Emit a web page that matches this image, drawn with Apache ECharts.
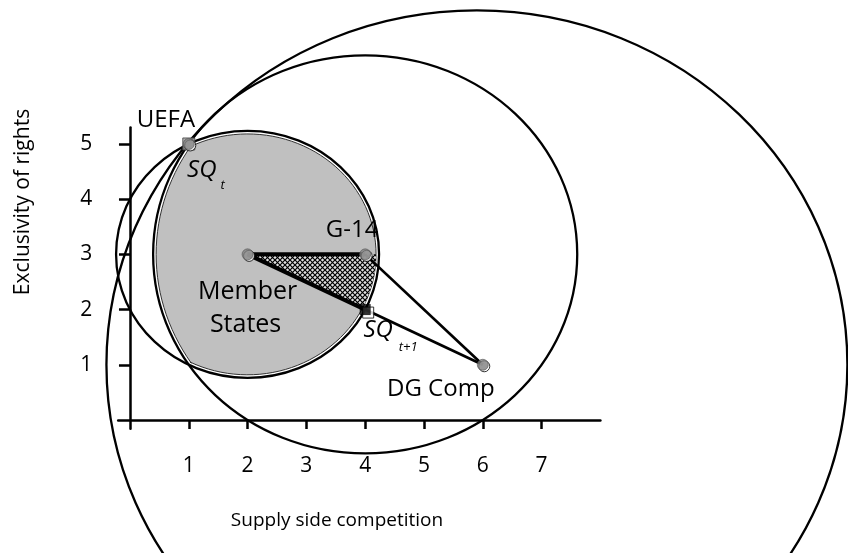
<!DOCTYPE html>
<html>
<head>
<meta charset="utf-8">
<script src="https://cdn.jsdelivr.net/npm/echarts@6/dist/echarts.min.js"></script>
<style>
  html, body { margin: 0; padding: 0; background: #fff; }
  #chart { width: 848px; height: 553px; }
</style>
</head>
<body>
<div id="chart"></div>
<script>
const FONT = '"Open Sans", "Noto Sans", sans-serif'

// tick labels
const xTicks = [1, 2, 3, 4, 5, 6, 7]
const yTicks = [1, 2, 3, 4, 5]

// ideal points of the actors
const actorNames = ['UEFA', 'Member States', 'G-14', 'DG Comp']
const actorX = [1, 2, 4, 6]
const actorY = [5, 3, 3, 1]

// status quo before / after
const sqNames = ['SQt', 'SQt+1']
const sqX = [1, 4]
const sqY = [5, 2]

// indifference circles through SQt (centre + radii, data units)
const circleNames = ['Member States', 'G-14', 'DG Comp']
const circleCx = [2, 4, 5.9]
const circleCy = [3, 3, 1]
const circleRx = [2.236, 3.606, 6.3]
const circleRy = [2.236, 3.606, 6.42]

// segments between actors
const thickSegments = [[[2, 3], [4, 3]], [[2, 3], [4, 2]]]
const thinSegments = [[[4, 3], [6, 1]], [[4, 2], [6, 1]]]

const chart = echarts.init(document.getElementById('chart'))

// crosshatch pattern
const pat = document.createElement('canvas')
pat.width = 5
pat.height = 5
const pctx = pat.getContext('2d')
pctx.fillStyle = '#e0e0e0'
pctx.fillRect(0, 0, 5, 5)
pctx.strokeStyle = '#000'
pctx.lineWidth = 1.2
pctx.beginPath()
pctx.moveTo(0, 0); pctx.lineTo(5, 5)
pctx.moveTo(5, 0); pctx.lineTo(0, 5)
pctx.stroke()

// helpers for the ellipse geometry in pixel space
function ellipseOf (api, i) {
  const c = api.coord([circleCx[i], circleCy[i]])
  const s = api.size([circleRx[i], circleRy[i]])
  return { cx: c[0], cy: c[1], rx: s[0], ry: s[1] }
}
function angleOf (i, x, y) {
  return Math.atan2((y - circleCy[i]) / circleRy[i], (x - circleCx[i]) / circleRx[i])
}
function arcPoints (e, a0, a1, inset, n) {
  const pts = []
  for (let k = 0; k <= n; k++) {
    const a = a0 + (a1 - a0) * k / n
    pts.push([e.cx + (e.rx - inset) * Math.cos(a), e.cy - (e.ry - inset) * Math.sin(a)])
  }
  return pts
}

// win set: inside Member States circle and G-14 circle
const winSetRender = function (params, api) {
  const ms = ellipseOf(api, 0)
  const g = ellipseOf(api, 1)
  // second intersection = SQt mirrored over the line of centres (y = 3)
  const lowY = 2 * circleCy[0] - sqY[0]
  const msA0 = angleOf(0, sqX[0], sqY[0])
  const msA1 = angleOf(0, sqX[0], lowY)
  let gA0 = angleOf(1, sqX[0], lowY)
  const gA1 = angleOf(1, sqX[0], sqY[0])
  if (gA0 < 0) gA0 += Math.PI * 2
  const pts = arcPoints(ms, msA0, msA1, 3, 80).concat(arcPoints(g, gA0, gA1, 3, 30))
  return {
    type: 'polygon',
    shape: { points: pts },
    style: { fill: '#c0c0c0', stroke: '#333', lineWidth: 1 }
  }
}

// hatched part: between MS->G-14 ray, MS->SQt+1 ray and the MS circle
const hatchRender = function (params, api) {
  const ms = ellipseOf(api, 0)
  const c = api.coord([actorX[1], actorY[1]])
  const a0 = angleOf(0, actorX[2], actorY[2])
  const a1 = angleOf(0, sqX[1], sqY[1])
  const pts = [c].concat(arcPoints(ms, a0, a1, 3, 20))
  return {
    type: 'polygon',
    shape: { points: pts },
    style: { fill: { image: pat, repeat: 'repeat' }, stroke: null }
  }
}

const circleRender = function (params, api) {
  const e = ellipseOf(api, params.dataIndex)
  return {
    type: 'ellipse',
    shape: e,
    style: { fill: null, stroke: '#000', lineWidth: 2.3 }
  }
}

const segmentSeries = function (seg, width) {
  return {
    type: 'line',
    data: seg,
    showSymbol: false,
    silent: true,
    z: 4,
    lineStyle: { color: '#000', width: width }
  }
}

const option = {
  animation: false,
  backgroundColor: '#fff',
  grid: { left: 118.2, top: 127.4, width: 482.2, height: 301.4 },
  xAxis: {
    type: 'value',
    min: -0.2,
    max: 8,
    splitLine: { show: false },
    axisLine: { onZero: true, lineStyle: { color: '#000', width: 2.5 } },
    axisTick: { customValues: xTicks, length: 9, lineStyle: { color: '#000', width: 2.5 } },
    axisLabel: { customValues: xTicks, margin: 27, color: '#000', fontSize: 21, fontFamily: FONT }
  },
  yAxis: {
    type: 'value',
    min: -0.16,
    max: 5.3,
    splitLine: { show: false },
    axisLine: { onZero: true, lineStyle: { color: '#000', width: 2.5 } },
    axisTick: { customValues: yTicks, length: 11, lineStyle: { color: '#000', width: 2.5 } },
    axisLabel: { customValues: yTicks, margin: 26, color: '#000', fontSize: 21, fontFamily: FONT }
  },
  series: [
    { type: 'custom', renderItem: winSetRender, data: [[0, 0]], clip: false, silent: true, z: 1 },
    {
      type: 'custom',
      renderItem: circleRender,
      data: circleNames.map((n, i) => [circleCx[i], circleCy[i]]),
      clip: false,
      silent: true,
      z: 2
    },
    { type: 'custom', renderItem: hatchRender, data: [[0, 0]], clip: false, silent: true, z: 3 },
    segmentSeries(thickSegments[0], 4),
    segmentSeries(thickSegments[1], 4),
    segmentSeries(thinSegments[0], 2.7),
    segmentSeries(thinSegments[1], 2.7),
    // SQt square
    {
      type: 'scatter',
      data: [[sqX[0], sqY[0]]],
      symbol: 'rect',
      symbolSize: 12,
      z: 5,
      itemStyle: { color: '#9a9a9a', borderColor: '#444', borderWidth: 1 }
    },
    // shadow circles of actors
    {
      type: 'scatter',
      data: actorX.map((x, i) => [x, actorY[i]]),
      symbol: 'circle',
      symbolSize: 11,
      symbolOffset: [1.5, 1.5],
      z: 5,
      itemStyle: { color: '#fff', borderColor: '#000', borderWidth: 1 }
    },
    {
      type: 'scatter',
      data: actorX.map((x, i) => [x, actorY[i]]),
      symbol: 'circle',
      symbolSize: 11,
      z: 6,
      itemStyle: { color: '#808080', borderColor: '#555', borderWidth: 0.8 }
    },
    // SQt+1 square
    {
      type: 'scatter',
      data: [[sqX[1], sqY[1]]],
      symbol: 'rect',
      symbolSize: 11,
      symbolOffset: [3, 3],
      z: 5,
      itemStyle: { color: '#fff', borderColor: '#000', borderWidth: 1 }
    },
    {
      type: 'scatter',
      data: [[sqX[1], sqY[1]]],
      symbol: 'rect',
      symbolSize: 11,
      z: 6,
      itemStyle: { color: '#000' }
    }
  ]
}

chart.setOption(option)

// text labels placed relative to the points
const px = (x, y) => chart.convertToPixel({ gridIndex: 0 }, [x, y])
const txt = function (p, dx, dy, text, size, extra) {
  return {
    type: 'text',
    x: p[0] + dx,
    y: p[1] + dy,
    z: 10,
    style: Object.assign({
      text: text,
      fontSize: size,
      fontFamily: FONT,
      fill: '#000',
      align: 'center',
      verticalAlign: 'middle'
    }, extra || {})
  }
}
const pU = px(actorX[0], actorY[0])
const pM = px(actorX[1], actorY[1])
const pG = px(actorX[2], actorY[2])
const pD = px(actorX[3], actorY[3])
const pS1 = px(sqX[1], sqY[1])

chart.setOption({
  graphic: [
    txt(pU, -52, -24, actorNames[0], 24, { align: 'left' }),
    txt(pU, 13, 26, 'SQ', 24, { fontStyle: 'italic' }),
    txt(pU, 34, 41, 't', 13, { fontStyle: 'italic' }),
    txt(pG, -13, -24, actorNames[2], 24),
    txt(pM, 0, 38, 'Member', 25),
    txt(pM, -2, 71, 'States', 25),
    txt(pS1, 13, 21, 'SQ', 24, { fontStyle: 'italic' }),
    txt(pS1, 43, 38, 't+1', 13, { fontStyle: 'italic' }),
    txt(pD, -42, 24, actorNames[3], 24),
    { type: 'text', x: 337, y: 521, style: { text: 'Supply side competition', fontSize: 19, fontFamily: FONT, fill: '#000', align: 'center', verticalAlign: 'middle' } },
    { type: 'text', x: 23, y: 202, rotation: Math.PI / 2, style: { text: 'Exclusivity of rights', fontSize: 21, fontFamily: FONT, fill: '#000', align: 'center', verticalAlign: 'middle' } }
  ]
})
</script>
</body>
</html>
